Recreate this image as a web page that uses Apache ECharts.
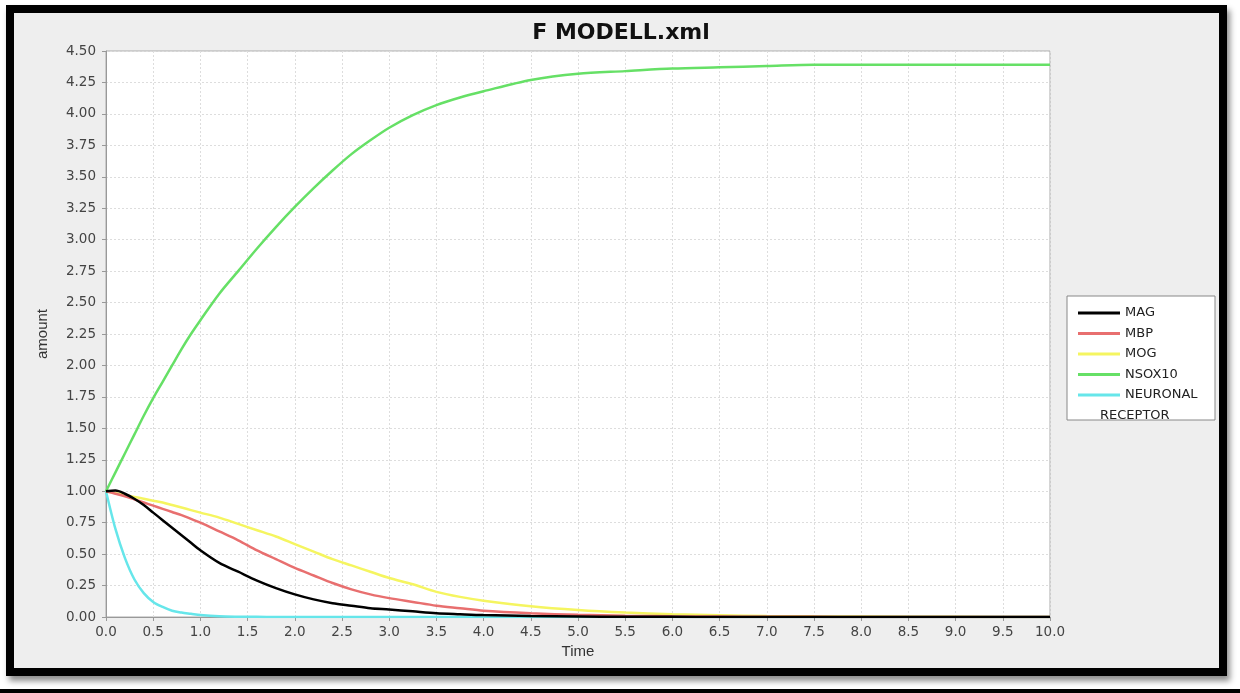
<!DOCTYPE html>
<html>
<head>
<meta charset="utf-8">
<script src="https://cdn.jsdelivr.net/npm/echarts@6/dist/echarts.min.js"></script>
<style>
  html, body { margin: 0; padding: 0; background: #fff; }
  .page { position: relative; width: 1240px; height: 693px; overflow: hidden; }
  .frame {
    position: absolute; left: 6px; top: 5px; width: 1205px; height: 655px;
    border: 8px solid #000; background: #eeeeee;
    box-shadow: 3px 5px 6px rgba(0, 0, 0, 0.45);
  }
  .baseline { position: absolute; left: 0; top: 689px; width: 1240px; height: 4px; background: #000; }
  #chart { position: absolute; left: 0; top: 0; width: 1240px; height: 693px; }
</style>
</head>
<body>
<div class="page">
  <div class="frame"></div>
  <div class="baseline"></div>
  <div id="chart"></div>
</div>
<script>
// time points (shared by all series)
const times = [0, 0.1, 0.2, 0.3, 0.4, 0.5, 0.6, 0.7, 0.8, 0.9, 1.0, 1.2, 1.4, 1.6, 1.8, 2.0,
  2.2, 2.4, 2.6, 2.8, 3.0, 3.25, 3.5, 3.75, 4.0, 4.5, 5.0, 5.5, 6.0, 6.5, 7.0, 7.5, 8.0, 9.0, 10.0]

const magValues = [1.0, 1.005, 0.98, 0.94, 0.89, 0.83, 0.77, 0.71, 0.65, 0.59, 0.53, 0.43, 0.36, 0.29, 0.23, 0.18,
  0.14, 0.11, 0.09, 0.07, 0.06, 0.045, 0.03, 0.022, 0.015, 0.008, 0.004, 0.002, 0.001, 0, 0, 0, 0, 0, 0]
const mbpValues = [1.0, 0.98, 0.96, 0.935, 0.91, 0.885, 0.86, 0.835, 0.81, 0.78, 0.75, 0.68, 0.61, 0.53, 0.46, 0.39,
  0.33, 0.27, 0.22, 0.18, 0.15, 0.12, 0.09, 0.07, 0.05, 0.03, 0.017, 0.01, 0.005, 0.003, 0.002, 0.001, 0, 0, 0]
const mogValues = [1.0, 0.985, 0.97, 0.955, 0.94, 0.925, 0.91, 0.89, 0.87, 0.85, 0.83, 0.79, 0.74, 0.69, 0.64, 0.58,
  0.52, 0.46, 0.41, 0.36, 0.31, 0.26, 0.2, 0.16, 0.13, 0.085, 0.055, 0.035, 0.022, 0.014, 0.008, 0.005, 0.003, 0.001, 0]
const nsox10Values = [1.0, 1.15, 1.3, 1.45, 1.6, 1.74, 1.87, 2.0, 2.13, 2.25, 2.36, 2.57, 2.75, 2.93, 3.1, 3.26,
  3.41, 3.55, 3.68, 3.79, 3.89, 3.99, 4.07, 4.13, 4.18, 4.27, 4.32, 4.34, 4.36, 4.37, 4.38, 4.39, 4.39, 4.39, 4.39]
const neuronalValues = [1.0, 0.7, 0.47, 0.3, 0.19, 0.12, 0.08, 0.05, 0.035, 0.025, 0.015, 0.005, 0.002, 0.001, 0, 0,
  0, 0, 0, 0, 0, 0, 0, 0, 0, 0, 0, 0, 0, 0, 0, 0, 0, 0, 0]
const receptorValues = []

const seriesNames = ['MAG', 'MBP', 'MOG', 'NSOX10', 'NEURONAL', 'RECEPTOR']
const seriesColors = ['#000000', '#e86f6f', '#f5f560', '#66e066', '#66e6ea', '#ffffff']
const seriesValues = [magValues, mbpValues, mogValues, nsox10Values, neuronalValues, receptorValues]

const pair = (vals) => vals.map((v, i) => [times[i], v])

const myChart = echarts.init(document.getElementById('chart'))
const tickFont = 'DejaVu Sans'
const option = {
  backgroundColor: 'transparent',
  animation: false,
  title: {
    text: 'F MODELL.xml',
    left: 616,
    textAlign: 'center',
    top: 17,
    textStyle: { fontFamily: 'DejaVu Sans', fontWeight: 'bold', fontSize: 22, color: '#111' }
  },
  grid: {
    left: 106, right: 190, top: 51, bottom: 76,
    show: true, backgroundColor: '#ffffff', borderColor: '#aaaaaa', borderWidth: 1
  },
  graphic: [{
    type: 'rect', z: 1,
    shape: { x: 1067, y: 296, width: 148, height: 124 },
    style: { fill: '#ffffff', stroke: '#888888', lineWidth: 1 }
  }],
  legend: [{
    data: seriesNames.slice(0, 5),
    orient: 'vertical',
    left: 1073, top: 301,
    icon: 'rect', itemWidth: 42, itemHeight: 3, itemGap: 6.5,
    selectedMode: false,
    textStyle: { fontFamily: tickFont, fontSize: 13, color: '#222', lineHeight: 14 }
  }, {
    data: ['RECEPTOR'],
    orient: 'vertical',
    left: 1090, top: 404,
    icon: 'none', itemWidth: 0, itemHeight: 3,
    selectedMode: false,
    textStyle: { fontFamily: tickFont, fontSize: 13, color: '#222', lineHeight: 14 }
  }],
  xAxis: {
    type: 'value', min: 0, max: 10, interval: 0.5,
    name: 'Time', nameLocation: 'middle', nameGap: 27,
    nameTextStyle: { fontFamily: 'Liberation Sans', fontSize: 15, color: '#333' },
    axisLine: { show: true, lineStyle: { color: '#999999' } },
    axisTick: { show: true, length: 4, lineStyle: { color: '#999999' } },
    axisLabel: {
      margin: 8, fontFamily: tickFont, fontSize: 13.5, color: '#444',
      formatter: (v) => v.toFixed(1)
    },
    splitLine: { show: true, lineStyle: { color: '#dddddd', type: [2, 2] } }
  },
  yAxis: {
    type: 'value', min: 0, max: 4.5, interval: 0.25,
    name: 'amount', nameLocation: 'middle', nameRotate: 90, nameGap: 56,
    nameTextStyle: { fontFamily: 'Liberation Sans', fontSize: 15, color: '#333' },
    axisLine: { show: true, lineStyle: { color: '#999999' } },
    axisTick: { show: true, length: 4, lineStyle: { color: '#999999' } },
    axisLabel: {
      margin: 10, fontFamily: tickFont, fontSize: 13.5, color: '#444',
      formatter: (v) => v.toFixed(2)
    },
    splitLine: { show: true, lineStyle: { color: '#dddddd', type: [2, 2] } }
  },
  series: seriesNames.map((name, i) => ({
    name: name,
    type: 'line',
    data: pair(seriesValues[i]),
    symbol: 'none',
    smooth: 0.3,
    color: seriesColors[i],
    lineStyle: { width: 2.5, color: seriesColors[i] },
    z: 10 - i
  }))
}
option && myChart.setOption(option)
</script>
</body>
</html>
